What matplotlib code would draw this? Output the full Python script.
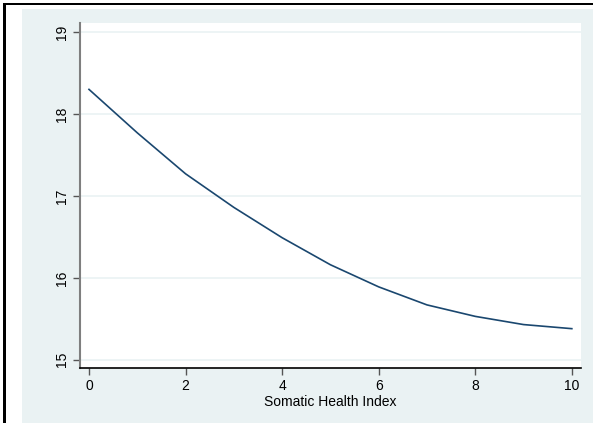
import matplotlib
matplotlib.use("Agg")
import matplotlib.pyplot as plt
from matplotlib.patches import Rectangle

# predicted values over the somatic health index
health_index = [0, 1, 2, 3, 4, 5, 6, 7, 8, 9, 10]
predicted = [18.30, 17.77, 17.27, 16.86, 16.49, 16.16, 15.89, 15.67, 15.53, 15.43, 15.38]
y_ticks = [15, 16, 17, 18, 19]
x_ticks = [0, 2, 4, 6, 8, 10]
x_title = "Somatic Health Index"

plt.rcParams['font.family'] = ['Liberation Sans', 'DejaVu Sans']

W, H = 593, 423
fig = plt.figure(figsize=(W / 100, H / 100), dpi=100)
fig.patch.set_facecolor("white")

# graph region background and outer frame (left and top edges only)
fig.add_artist(Rectangle((22 / W, 0), 1 - 22 / W, 1 - 9 / H, transform=fig.transFigure,
                         facecolor="#eaf2f3", edgecolor="none", linewidth=0, zorder=0))
fig.add_artist(Rectangle((3 / W, 0), 2.5 / W, 1 - 3 / H, transform=fig.transFigure,
                         facecolor="black", edgecolor="none", linewidth=0, zorder=1))
fig.add_artist(Rectangle((3 / W, 1 - 5.5 / H), 1 - 3 / W, 2.5 / H, transform=fig.transFigure,
                         facecolor="black", edgecolor="none", linewidth=0, zorder=1))

ax = fig.add_axes([80 / W, (H - 368) / H, (581 - 80) / W, (368 - 23) / H])
ax.set_facecolor("white")

ax.plot(health_index, predicted, color="#1a476f", linewidth=1.2, zorder=3)

ax.set_xlim(-0.186, 10.19)
ax.set_ylim(14.90, 19.11)
ax.set_xticks(x_ticks)
ax.set_yticks(y_ticks)
ax.grid(axis="y", color="#eaf2f3", linewidth=1.2, zorder=1)
ax.grid(axis="x", visible=False)

for s in ["top", "right"]:
    ax.spines[s].set_visible(False)
ax.spines["left"].set_color("#7f7f7f")
ax.spines["left"].set_linewidth(1.5)
ax.spines["bottom"].set_color("black")
ax.spines["bottom"].set_linewidth(1.2)

ax.tick_params(axis="x", colors="black", labelsize=10, length=5, width=1, pad=3)
ax.tick_params(axis="y", colors="black", labelsize=10, length=5, width=1, pad=3,
               labelrotation=90)
ax.tick_params(axis="x", color="#555555")
ax.tick_params(axis="y", color="#555555")
for lbl in ax.get_yticklabels():
    lbl.set_verticalalignment("center")

ax.set_xlabel(x_title, fontsize=10, labelpad=1)

fig.savefig("out.png", dpi=100)
